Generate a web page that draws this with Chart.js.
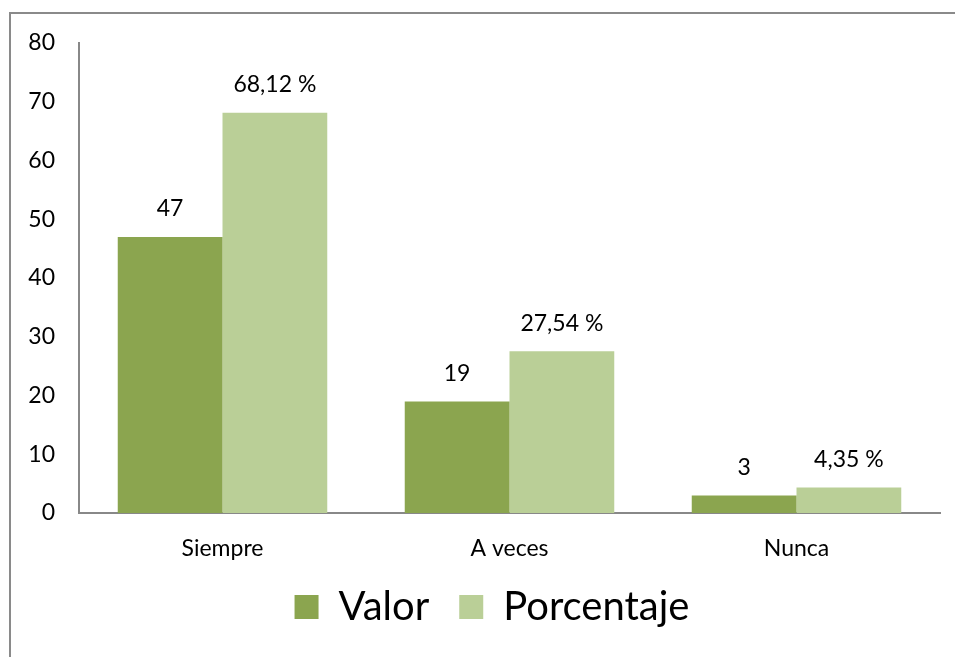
<!DOCTYPE html>
<html>
<head>
<meta charset="utf-8">
<script src="https://cdn.jsdelivr.net/npm/chart.js@4"></script>
<style>
  html, body { margin:0; padding:0; background:#fff; overflow:hidden; }
  #wrap { position:relative; width:955px; height:657px; }
  #frame { position:absolute; left:9px; top:12px; width:1000px; height:700px;
           border-left:2px solid #8a8a8a; border-top:2px solid #8a8a8a; }
  canvas { position:absolute; left:0; top:0; }
</style>
</head>
<body>
<div id="wrap">
  <div id="frame"></div>
  <canvas id="c" width="955" height="657"></canvas>
</div>
<script>
// data
const categories = ['Siempre', 'A veces', 'Nunca'];
const valor = [47, 19, 3];
const porcentaje = [68.12, 27.54, 4.35];
const yTicks = [0, 10, 20, 30, 40, 50, 60, 70, 80];

const FONT = 'Lato, "Open Sans", sans-serif';

function fmtPct(n){ return n.toFixed(2).replace('.', ',') + ' %'; }

// value labels above the bars
const barLabels = {
  id: 'barLabels',
  afterDatasetsDraw(chart){
    const ctx = chart.ctx;
    ctx.save();
    ctx.font = '23px ' + FONT;
    ctx.fillStyle = '#000';
    ctx.textAlign = 'center';
    ctx.textBaseline = 'middle';
    chart.data.datasets.forEach((ds, di)=>{
      chart.getDatasetMeta(di).data.forEach((bar, i)=>{
        const v = ds.data[i];
        const txt = di === 0 ? String(v) : fmtPct(v);
        ctx.fillText(txt, bar.x, bar.y - 28);
      });
    });
    ctx.restore();
  }
};

// legend a bit to the right; let category labels overflow into the legend box
const layoutTweak = {
  id: 'layoutTweak',
  afterLayout(chart){
    if(chart.legend){ chart.legend.left += 22; chart.legend.right += 22; }
    chart.scales.x.bottom += 14;
  }
};

new Chart(document.getElementById('c'), {
  type: 'bar',
  data: {
    labels: categories,
    datasets: [
      { label: 'Valor', data: valor, backgroundColor: '#8ba54f' },
      { label: 'Porcentaje', data: porcentaje, backgroundColor: '#bacf97' }
    ]
  },
  plugins: [barLabels, layoutTweak],
  options: {
    responsive: false,
    animation: false,
    layout: { padding: { top: 43, right: 15, left: 0, bottom: 20 } },
    datasets: { bar: { categoryPercentage: 0.73, barPercentage: 1.0 } },
    scales: {
      x: {
        grid: { display: false, drawTicks: false },
        border: { display: true, color: '#888', width: 2 },
        ticks: { color: '#000', font: { family: FONT, size: 23 }, padding: 22 },
        afterFit(s){ s.height = 44; }
      },
      y: {
        min: 0, max: 80,
        afterBuildTicks(s){ s.ticks = yTicks.map(v=>({ value: v })); },
        grid: { display: false, drawTicks: false },
        border: { display: true, color: '#888', width: 2 },
        ticks: { color: '#000', font: { family: FONT, size: 23 }, padding: 24 },
        afterFit(s){ s.width = 79; }
      }
    },
    plugins: {
      tooltip: { enabled: false },
      legend: {
        position: 'bottom',
        labels: {
          color: '#000',
          font: { family: FONT, size: 40 },
          boxWidth: 24, boxHeight: 24,
          padding: 30
        }
      }
    }
  }
});
</script>
</body>
</html>
